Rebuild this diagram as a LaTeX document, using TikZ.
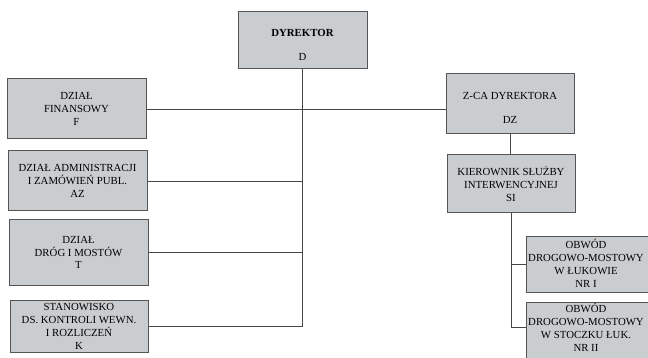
\documentclass[tikz,border=0pt]{standalone}
\usepackage{fontspec}
\setmainfont{Liberation Serif}
\definecolor{boxfill}{RGB}{201,205,208}
\definecolor{boxedge}{RGB}{85,85,85}
\definecolor{linegray}{RGB}{70,70,70}
\begin{document}
\begin{tikzpicture}[x=1pt,y=-1pt]

    \tikzstyle{every node}=[font=\fontsize{10.8}{12.8}\selectfont]
    \tikzstyle{box}=[draw=boxedge, line width=1pt, fill=boxfill, align=center, inner sep=0pt]
    \tikzstyle{link}=[draw=linegray, line width=0.8pt]
    \def\lw{139pt}

    \useasboundingbox (0,0) rectangle (648,358);
    \clip (0,0) rectangle (648,358);

    % top
    \node[box, minimum width=129pt, minimum height=57pt] (d) at (302.5,40.5)
        {\rule{0pt}{16pt}\textbf{DYREKTOR}\\[12pt]D};

    % left column
    \node[box, minimum width=\lw, minimum height=60pt] (f) at (76.5,109)
        {DZIAŁ\\FINANSOWY\\F};
    \node[box, minimum width=\lw, minimum height=60pt] (az) at (77.5,181)
        {DZIAŁ ADMINISTRACJI\\I ZAMÓWIEŃ PUBL.\\AZ};
    \node[box, minimum width=\lw, minimum height=65pt] (t) at (78.5,252.5)
        {DZIAŁ\\DRÓG I MOSTÓW\\T};
    \node[box, minimum width=138pt, minimum height=52pt] (k) at (79,326.5)
        {STANOWISKO\\DS. KONTROLI WEWN.\\I ROZLICZEŃ\\K};

    % right column
    \node[box, minimum width=128pt, minimum height=60pt] (dz) at (510,104)
        {\rule{0pt}{15pt}Z-CA DYREKTORA\\[12pt]DZ};
    \node[box, minimum width=128pt, minimum height=58pt] (si) at (511,184)
        {KIEROWNIK SŁUŻBY\\INTERWENCYJNEJ\\SI};
    \node[box, anchor=west, minimum width=150pt, minimum height=55pt] (o1) at (526,264.5) {};
    \node[align=center] (o1t) at (586,263.5)
        {OBWÓD\\DROGOWO-MOSTOWY\\W ŁUKOWIE\\NR I};
    \node[box, anchor=north west, minimum width=150pt, minimum height=70pt] (o2) at (526,302) {};
    \node[align=center] (o2t) at (586,327.5)
        {OBWÓD\\DROGOWO-MOSTOWY\\W STOCZKU ŁUK.\\NR II};

    % connectors
    \draw[link] (d.south) -- (d.south |- k.east);
    \draw[link] (f.east) -- (f.east -| dz.west);
    \draw[link] (az.east) -- (az.east -| d.south);
    \draw[link] (t.east) -- (t.east -| d.south);
    \draw[link] (k.east) -- (k.east -| d.south);

    \draw[link] (dz.south) -- (dz.south |- si.north);
    \draw[link] (si.south) -- (si.south |- o2t.west) -- (o2t.west -| o2.west);
    \draw[link] (o1.west -| si.south) -- (o1.west);

\end{tikzpicture}
\end{document}
